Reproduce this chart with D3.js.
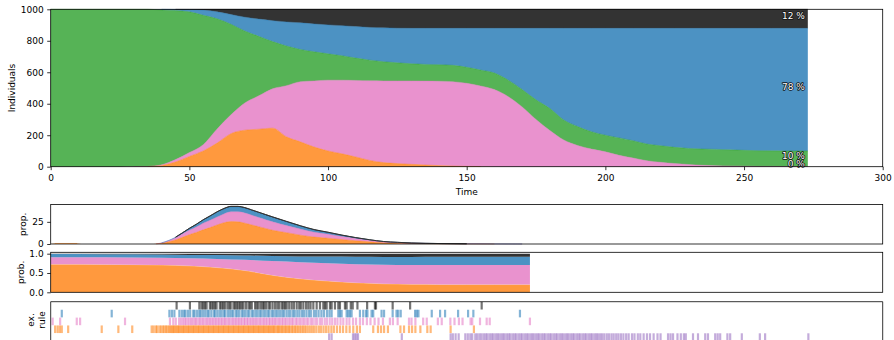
<!DOCTYPE html>
<html>
<head>
<meta charset="utf-8">
<script src="https://cdn.jsdelivr.net/npm/d3@7"></script>
<style>
  body { margin: 0; background: #fff; }
  svg { display: block; font-family: "DejaVu Sans", sans-serif; }
</style>
</head>
<body>
<svg id="fig" width="894" height="340"></svg>
<script>
// ---------- Compartment counts (1000 individuals) ----------
const tMain = [0,5,10,15,20,25,30,35,40,45,50,55,60,65,70,75,80,85,90,95,100,105,110,115,120,125,130,135,140,145,150,155,160,165,170,175,180,185,190,195,200,205,210,215,220,225,230,235,240,245,250,255,260,265,270,273];
const exposed     = [0,0,0,0,0,0,0,1,8,30,65,100,150,210,232,238,245,190,158,125,100,82,62,40,26,20,15,11,7,4,2,1,0,0,0,0,0,0,0,0,0,0,0,0,0,0,0,0,0,0,0,0,0,0,0,0];
const infectious  = [0,0,0,0,0,0,1,1,4,15,25,40,90,120,173,212,250,325,382,420,450,468,486,506,519,525,530,533,536,536,528,512,490,445,380,300,230,170,135,112,95,72,55,38,28,20,14,9,6,4,3,2,2,1,1,1];
const susceptible = [1000,1000,1000,1000,1000,1000,999,998,984,947,894,822,700,575,457,378,300,252,205,185,167,155,142,131,122,115,109,106,105,104,102,101,105,105,110,125,140,127,120,110,105,111,110,106,105,103,102,103,104,103,101,100,99,99,99,99];
const recovered   = [0,0,0,0,0,0,0,0,4,7,14,33,44,62,88,110,133,153,169,177,184,191,200,208,215,220,225,229,231,235,247,265,284,329,389,454,509,582,624,657,679,696,714,735,746,756,763,767,769,772,775,777,778,779,779,779];
const dead        = [0,0,0,0,0,0,0,0,0,1,2,5,16,33,50,62,72,80,86,93,99,104,110,115,118,120,121,121,121,121,121,121,121,121,121,121,121,121,121,121,121,121,121,121,121,121,121,121,121,121,121,121,121,121,121,121];

// ---------- Rule propensities ----------
const tProp       = [0,1.5,9.5,11,36,38,40,42.5,45,47.5,50,52.5,55,57.5,60,62.5,65,67.5,70,72.5,75,77.5,80,85,90,95,100,105,110,115,120,125,130,140,150,160,170,180];
const propInfect  = [0,0.6,0.6,0,0,0.2,0.8,2.5,4.5,7.5,10.5,13,16,18.5,21.5,24,25.3,25,23.5,21.5,19.5,17.5,15.5,12.8,10,7.8,6.5,5,3.6,2.4,1.4,0.9,0.55,0.25,0.1,0.05,0,0];
const propOnset   = [0,0,0,0,0,0.1,0.4,1.2,2.5,3.8,5,6.2,7.5,8.3,9,10,11,11.3,11.5,11,10.5,10,9.5,8,6.8,5.5,4.5,3.4,2.5,1.7,1.0,0.7,0.45,0.2,0.1,0.04,0.02,0];
const propRecover = [0,0,0,0,0,0,0.1,0.3,0.6,1.2,2,2.8,3.5,4.5,5.3,5.5,5.5,5.5,5.4,5.3,5.2,5.1,5,4.2,3.4,2.6,2,1.4,0.9,0.6,0.35,0.25,0.15,0.07,0.04,0.02,0.01,0];
const propDeath   = [0,0,0,0,0,0,0,0,0.05,0.1,0.2,0.3,0.4,0.5,0.6,0.65,0.7,0.7,0.7,0.7,0.7,0.65,0.65,0.55,0.45,0.4,0.3,0.25,0.2,0.12,0.08,0.05,0.03,0.02,0.01,0,0,0];

// ---------- Rule probabilities ----------
const tProb       = [0,20,40,50,60,70,80,90,100,110,120,130,140,150,160,172.8];
const probInfect  = [0.725,0.722,0.705,0.685,0.64,0.565,0.44,0.35,0.29,0.248,0.22,0.207,0.202,0.2,0.2,0.2];
const probOnset   = [0.185,0.185,0.19,0.197,0.225,0.275,0.37,0.43,0.46,0.478,0.492,0.5,0.505,0.507,0.507,0.507];
const probRecover = [0.08,0.08,0.083,0.085,0.1,0.115,0.13,0.15,0.175,0.194,0.205,0.21,0.212,0.213,0.213,0.213];
const probDeath   = [0.01,0.013,0.022,0.033,0.035,0.045,0.06,0.07,0.075,0.08,0.083,0.083,0.081,0.08,0.08,0.08];

// ---------- Executed rule events (times) ----------
const evDeath = [45.4,50.2,53.6,54.4,55.0,55.6,56.2,57.4,58.0,58.6,59.2,59.8,61.0,61.6,62.2,62.8,63.7,64.4,64.9,65.9,66.5,67.1,67.7,68.3,68.9,69.5,70.4,71.3,71.9,72.5,73.7,74.3,74.9,75.7,76.4,76.9,77.6,78.5,79.1,80.0,80.9,81.7,82.4,83.3,83.9,84.5,85.1,86.0,86.9,87.7,88.7,89.6,90.2,91.1,92.1,92.9,93.7,94.7,95.9,97.1,98.3,98.9,99.5,100.7,101.3,102.5,103.7,104.3,106.1,106.7,108.2,108.9,110.6,114.1,116.9,117.3,123.3,129.6,155.4];
const evRecover = [4.0,22.0,42.8,43.7,44.6,46.4,47.3,48.1,48.6,49.5,50.3,51.4,51.9,52.8,53.6,54.1,54.9,55.7,56.5,57.0,57.9,58.8,59.3,60.1,60.9,61.6,62.4,62.9,63.8,64.5,65.2,65.8,66.7,67.3,68.0,68.9,69.5,70.2,71.0,71.6,72.5,73.1,73.9,74.6,75.4,76.0,76.8,77.5,78.3,78.9,79.8,80.4,81.2,81.9,82.7,83.5,84.1,85.0,85.8,86.5,87.4,88.0,88.9,89.7,90.6,91.3,92.2,93.1,93.8,94.9,95.7,96.6,97.6,98.5,99.6,100.5,101.3,103.7,104.3,104.9,106.7,107.3,107.9,108.5,111.5,112.7,113.7,114.2,115.7,116.3,119.3,120.2,123.3,124.7,125.3,126.2,131.4,132.0,132.6,137.4,140.4,142.2,146.9,150.5,152.4,169.2];
const evOnset = [0.7,3.4,9.4,10.6,26.8,43.0,44.2,45.1,46.3,47.0,47.7,48.3,48.8,49.5,50.1,50.7,51.2,51.9,52.3,52.9,53.6,54.0,54.7,55.1,55.8,56.3,56.9,57.4,58.0,58.5,59.1,59.6,60.2,60.7,61.3,61.8,62.4,62.9,63.4,64.1,64.5,65.2,65.7,66.3,66.8,67.4,67.9,68.5,69.0,69.7,70.1,70.8,71.2,71.9,72.4,73.0,73.5,74.1,74.6,75.3,75.7,76.4,76.9,77.5,78.0,78.7,79.1,79.8,80.3,80.9,81.4,82.1,82.6,83.3,83.8,84.5,85.0,85.7,86.3,87.0,87.5,88.3,88.8,89.6,90.2,91.0,91.6,92.4,93.0,93.9,94.5,95.4,96.1,97.1,97.8,98.8,99.6,100.6,101.5,102.5,103.4,104.5,105.5,106.7,107.7,109.0,110.1,111.5,112.6,114.0,115.3,116.8,118.2,119.8,122.3,123.4,125.1,129.2,130.1,131.5,134.3,135.6,139.6,141.0,144.1,145.6,147.2,148.5,151.4,152.0,154.8,157.2,158.3,172.8];
const evInfect = [1.6,2.5,3.3,4.0,6.3,18.4,24.4,29.4,36.4,37.1,37.9,38.4,39.2,39.8,40.5,41.0,41.6,42.1,42.7,43.2,43.6,44.1,44.5,45.0,45.4,45.9,46.3,46.8,47.2,47.7,48.1,48.6,49.0,49.5,49.9,50.4,50.8,51.3,51.7,52.2,52.6,53.1,53.5,54.0,54.4,54.9,55.3,55.8,56.2,56.7,57.1,57.6,58.0,58.5,58.9,59.4,59.8,60.3,60.7,61.2,61.6,62.1,62.5,63.0,63.4,63.9,64.3,64.8,65.2,65.7,66.1,66.6,67.0,67.5,67.9,68.4,68.8,69.3,69.7,70.2,70.6,71.1,71.5,72.0,72.4,72.9,73.3,73.8,74.2,74.7,75.1,75.6,76.0,76.5,76.9,77.4,77.8,78.3,78.7,79.2,79.6,80.1,80.5,81.0,81.5,82.0,82.4,82.9,83.4,83.9,84.4,84.9,85.4,85.9,86.4,87.0,87.5,88.1,88.6,89.2,89.8,90.4,91.0,91.6,92.2,92.9,93.6,94.3,95.0,95.8,96.7,97.5,98.4,99.3,100.2,101.2,102.1,103.2,104.3,105.4,106.6,107.8,109.1,110.4,111.5,116.3,118.0,119.1,120.2,121.6,126.1,127.4,129.2,130.3,131.5,133.3,135.8,137.0,144.2,152.6];
const evOther = [100.4,101.3,109.0,109.6,110.2,110.8,126.6,144.2,145.0,146.0,147.1,149.5,150.4,151.3,152.0,153.1,153.8,154.6,155.3,156.1,156.8,157.4,158.2,158.9,159.5,160.3,161.0,161.6,162.4,163.1,163.7,164.5,165.2,165.8,166.6,167.3,167.9,168.7,169.4,170.0,170.8,171.5,172.1,172.9,173.6,174.2,175.0,175.7,176.3,177.1,177.8,178.4,179.2,179.9,180.5,181.3,182.0,182.6,183.4,184.1,184.7,185.5,186.2,186.8,187.6,188.3,188.9,189.7,190.4,191.0,191.8,192.5,193.1,193.9,194.6,195.2,196.0,196.7,197.3,198.1,198.8,199.6,200.5,201.3,202.2,203.0,203.9,204.7,205.6,206.5,207.5,208.4,209.6,210.5,211.7,212.6,213.8,215.0,216.1,217.4,218.8,219.9,222.6,223.5,224.4,226.0,227.2,228.3,229.0,231.6,233.4,236.0,237.0,239.6,240.5,241.4,244.0,245.0,249.2,255.7,257.6,273.2];

const xTicks = [0,50,100,150,200,250,300];
const yTicksMain = [0,200,400,600,800,1000];
const yTicksProp = [0,25];
const yTicksProb = [0,0.5,1.0];

// ---------- Drawing ----------
const C = { orange:"#ff7f0e", pink:"#e377c2", green:"#2ca02c", blue:"#1f77b4", black:"#000000", purple:"#9467bd" };
const svg = d3.select("#fig");
const FS = 9;
const x = d3.scaleLinear().domain([0,300]).range([50.7,882.7]);
const L = x.range()[0], R = x.range()[1];

function styleAxis(g) {
  g.select(".domain").remove();
  g.selectAll(".tick line").attr("stroke","#000").attr("stroke-width",0.8);
  g.selectAll(".tick text").attr("fill","#000").attr("font-size",FS).attr("font-family","DejaVu Sans");
}
function frame(top, bottom) {
  svg.append("rect").attr("x",L).attr("y",top).attr("width",R-L).attr("height",bottom-top)
    .attr("fill","none").attr("stroke","#000").attr("stroke-width",0.8);
}
function yLabel(text, cx, cy) {
  svg.append("text").attr("transform",`translate(${cx},${cy}) rotate(-90)`)
    .attr("text-anchor","middle").attr("font-size",FS).attr("fill","#000").text(text);
}
// stacked layers: translucent fills plus an edge along each layer's upper boundary
function stackLayers(stack, y, colOf, edgeCol, edgeOpacity) {
  const g = svg.append("g");
  const area = d3.area().x(d => x(d.data.t)).y0(d => y(d[0])).y1(d => y(d[1])).curve(d3.curveMonotoneX);
  g.selectAll("path.fill").data(stack).join("path").attr("class","fill")
    .attr("d", area).attr("fill", d => colOf(d.key)).attr("fill-opacity",0.8);
  const edge = d3.line().defined(d => d[1] - d[0] > 0).x(d => x(d.data.t)).y(d => y(d[1])).curve(d3.curveMonotoneX);
  g.selectAll("path.edge").data(stack).join("path").attr("class","edge")
    .attr("d", edge).attr("fill","none")
    .attr("stroke", d => edgeCol || colOf(d.key)).attr("stroke-opacity", edgeOpacity).attr("stroke-width",0.7);
  return g;
}

// Panel 1: stacked compartments
const y1 = d3.scaleLinear().domain([0,1000]).range([166.7,9.3]);
const mainKeys = ["exposed","infectious","susceptible","recovered","dead"];
const mainCol = { exposed:C.orange, infectious:C.pink, susceptible:C.green, recovered:C.blue, dead:C.black };
const mainSeries = { exposed, infectious, susceptible, recovered, dead };
const mainRows = tMain.map((t,i) => { const r = { t }; mainKeys.forEach(k => r[k] = mainSeries[k][i]); return r; });
const mainStack = d3.stack().keys(mainKeys)(mainRows);
stackLayers(mainStack, y1, k => mainCol[k], null, 0.6);

// final share labels (compartments still occupied at the end)
const last = mainRows.length - 1;
const total = d3.sum(mainKeys, k => mainRows[last][k]);
svg.append("g").selectAll("text").data(mainStack.filter(s => mainRows[last][s.key] > 0)).join("text")
  .attr("x", x(tMain[last]) - 3)
  .attr("y", d => y1((d[last][0] + d[last][1]) / 2))
  .attr("text-anchor","end").attr("font-size",FS)
  .attr("fill","#fff").attr("stroke","#111").attr("stroke-width",1.6).attr("paint-order","stroke")
  .attr("stroke-linejoin","round")
  .text(d => Math.round(mainRows[last][d.key] / total * 100) + " %");

frame(9.3, 166.7);
svg.append("g").attr("transform","translate(0,166.7)")
  .call(d3.axisBottom(x).tickValues(xTicks).tickSize(3.5).tickPadding(4.5)).call(styleAxis);
svg.append("g").attr("transform",`translate(${L},0)`)
  .call(d3.axisLeft(y1).tickValues(yTicksMain).tickSize(3.5).tickPadding(3.5).tickFormat(d3.format("d"))).call(styleAxis);
svg.append("text").attr("x",(L+R)/2).attr("y",194.5).attr("text-anchor","middle").attr("font-size",FS).text("Time");
yLabel("Individuals", 15, 88);

// Panel 2: rule propensities
const y2 = d3.scaleLinear().domain([0,44.6]).range([244,204.5]);
const propKeys = ["infect","onset","recover","death"];
const propCol = { infect:C.orange, onset:C.pink, recover:C.blue, death:C.black };
const propSeries = { infect:propInfect, onset:propOnset, recover:propRecover, death:propDeath };
const propRows = tProp.map((t,i) => { const r = { t }; propKeys.forEach(k => r[k] = propSeries[k][i]); return r; });
const propStack = d3.stack().keys(propKeys)(propRows);
stackLayers(propStack, y2, k => propCol[k], null, 0.6);
// dark outline of the total
svg.append("path").datum(propStack[propStack.length-1])
  .attr("d", d3.line().defined(d => d[1] - d[0] > 0).x(d => x(d.data.t)).y(d => y2(d[1])).curve(d3.curveMonotoneX))
  .attr("fill","none").attr("stroke","#333").attr("stroke-width",1);
frame(204.5, 244);
svg.append("g").attr("transform",`translate(${L},0)`)
  .call(d3.axisLeft(y2).tickValues(yTicksProp).tickSize(3.5).tickPadding(3.5)).call(styleAxis);
yLabel("prop.", 25.5, 224.3);

// Panel 3: rule probabilities
const y3 = d3.scaleLinear().domain([0,1.036]).range([292.3,252.3]);
const probSeries = { infect:probInfect, onset:probOnset, recover:probRecover, death:probDeath };
const probRows = tProb.map((t,i) => { const r = { t }; propKeys.forEach(k => r[k] = probSeries[k][i]); return r; });
const probStack = d3.stack().keys(propKeys)(probRows);
stackLayers(probStack.slice(0,1), y3, k => propCol[k], "#fff", 0.4);
stackLayers(probStack.slice(1), y3, k => propCol[k], null, 0);
frame(252.3, 292.3);
svg.append("g").attr("transform",`translate(${L},0)`)
  .call(d3.axisLeft(y3).tickValues(yTicksProb).tickSize(3.5).tickPadding(3.5).tickFormat(d3.format(".1f"))).call(styleAxis);
yLabel("prob.", 23.5, 272.3);

// Panel 4: executed rule events
const rows = [
  { key:"death",   col:C.black,  ev:evDeath },
  { key:"recover", col:C.blue,   ev:evRecover },
  { key:"onset",   col:C.pink,   ev:evOnset },
  { key:"infect",  col:C.orange, ev:evInfect },
  { key:"other",   col:C.purple, ev:evOther }
];
const y4 = d3.scaleBand().domain(rows.map(r => r.key)).range([301.9, 340.9]).paddingInner(0.03);
const evG = svg.append("g");
rows.forEach(r => {
  evG.append("g").selectAll("line").data(r.ev).join("line")
    .attr("x1", d => x(d)).attr("x2", d => x(d))
    .attr("y1", y4(r.key)).attr("y2", y4(r.key) + y4.bandwidth())
    .attr("stroke", r.col).attr("stroke-width",2.2).attr("stroke-opacity",0.55);
});
svg.append("path").attr("d",`M${L},345V301.7H${R}V345`).attr("fill","none").attr("stroke","#000").attr("stroke-width",0.8);
const lab4 = svg.append("text").attr("transform","translate(0,320) rotate(-90)").attr("text-anchor","middle").attr("font-size",FS);
lab4.append("tspan").attr("x",0).attr("y",33.5).text("ex.");
lab4.append("tspan").attr("x",0).attr("y",44.5).text("rule");
</script>
</body>
</html>
